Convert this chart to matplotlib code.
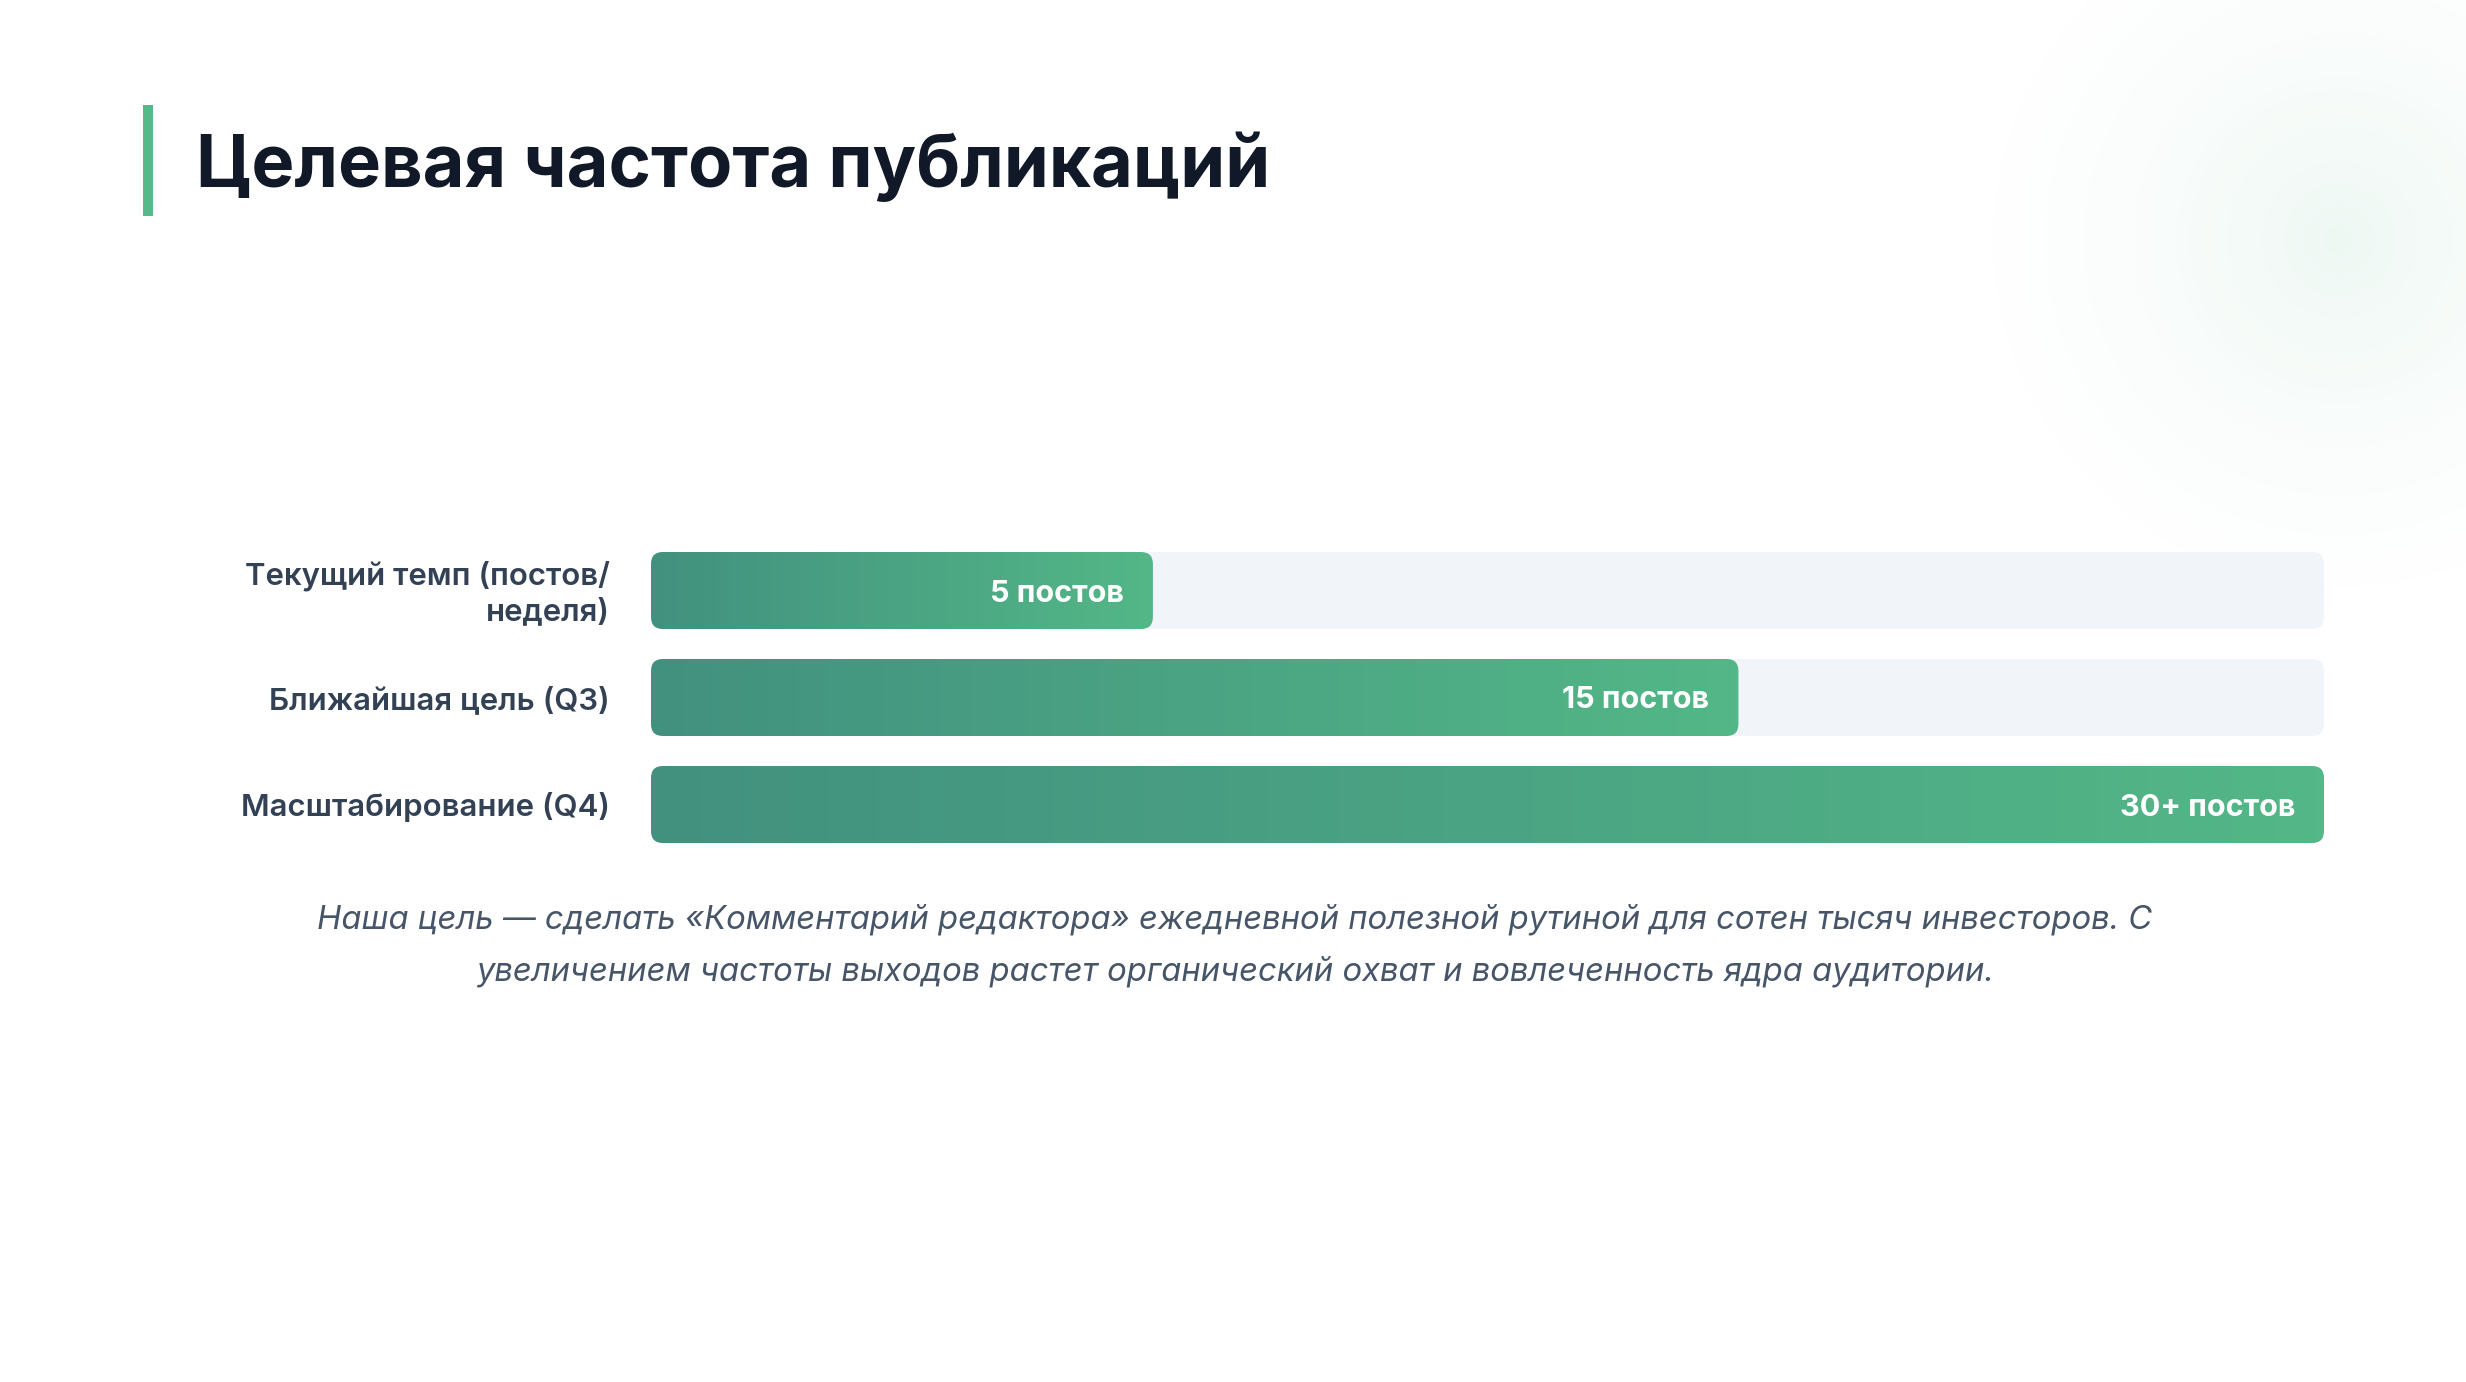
import numpy as np
import matplotlib
matplotlib.use("Agg")
import matplotlib.pyplot as plt
from matplotlib import font_manager
from matplotlib.patches import FancyBboxPatch, Rectangle
from matplotlib.colors import LinearSegmentedColormap

W, H = 2466, 1382
DPI = 100

TITLE = "Целевая частота публикаций"
categories = ["Текущий темп (постов/\nнеделя)", "Ближайшая цель (Q3)", "Масштабирование (Q4)"]
fill_pct = [30, 65, 100]
value_labels = ["5 постов", "15 постов", "30+ постов"]
caption_lines = [
    "Наша цель — сделать «Комментарий редактора» ежедневной полезной рутиной для сотен тысяч инвесторов. С",
    "увеличением частоты выходов растет органический охват и вовлеченность ядра аудитории.",
]

GREEN_L = "#42917f"
GREEN_R = "#53b787"
TRACK = "#f1f5f9"
TITLE_C = "#111827"
LABEL_C = "#334155"
CAPTION_C = "#475569"

names = {f.name for f in font_manager.fontManager.ttflist}
base_font = ["Inter", "DejaVu Sans"] if "Inter" in names else ["Roboto", "DejaVu Sans"]
italic_ok = any(f.name == "Inter" and f.style == "italic" for f in font_manager.fontManager.ttflist)
cap_font = ["Inter", "DejaVu Sans"] if italic_ok else ["Roboto", "DejaVu Sans"]
plt.rcParams["font.family"] = base_font

fig = plt.figure(figsize=(W / DPI, H / DPI), dpi=DPI)
fig.patch.set_facecolor("white")

# background layer in pixel coords
bg = fig.add_axes([0, 0, 1, 1])
bg.axis("off")

# faint green glow top right
gx, gy = np.meshgrid(np.arange(1700, W, 4), np.arange(0, 700, 4))
d = np.hypot(gx - 2339, gy - 238) / 400.0
alpha = 0.10 * np.clip(1 - d, 0, 1) ** 1.6
glow = np.zeros(gx.shape + (4,))
glow[..., 0] = 82 / 255
glow[..., 1] = 183 / 255
glow[..., 2] = 136 / 255
glow[..., 3] = alpha
bg.imshow(glow, extent=(1700, W, 700, 0), interpolation="bilinear", zorder=0)
bg.set_xlim(0, W)
bg.set_ylim(H, 0)

# title with accent bar
bg.add_patch(Rectangle((143, 105), 10, 111, color="#55b98a", lw=0, zorder=2))
bg.text(196, 187, TITLE, fontsize=52, fontweight="bold", color=TITLE_C,
        ha="left", va="baseline", zorder=3)

# caption
cap_y = [920, 972]
for line, y in zip(caption_lines, cap_y):
    bg.text(1235, y, line, fontsize=23.6, style="italic", color=CAPTION_C,
            ha="center", va="center", family=cap_font, zorder=3)

# bar axes
x0, x1 = 651, 2324
step = 107
bar_h_px = 77
top = 590.5 - step / 2
n = len(categories)
ax = fig.add_axes([x0 / W, 1 - (top + n * step) / H, (x1 - x0) / W, n * step / H])
ax.axis("off")

bar_h = bar_h_px / step
px_x = (x1 - x0) / 100.0
rad_px = 12
aspect = (1 / step) / (1 / px_x)
cmap = LinearSegmentedColormap.from_list("g", [GREEN_L, GREEN_R])
grad = np.linspace(0, 1, 256).reshape(1, -1)
dy = 3 / step  # small downward nudge for text centring

for i, (cat, pct, lab) in enumerate(zip(categories, fill_pct, value_labels)):
    yb = i - bar_h / 2
    track = FancyBboxPatch((0, yb), 100, bar_h,
                           boxstyle=f"round,pad=0,rounding_size={rad_px / px_x}",
                           mutation_aspect=aspect, fc=TRACK, ec="none", zorder=1)
    ax.add_patch(track)
    fill = FancyBboxPatch((0, yb), pct, bar_h,
                          boxstyle=f"round,pad=0,rounding_size={rad_px / px_x}",
                          mutation_aspect=aspect, fc="none", ec="none", zorder=2)
    ax.add_patch(fill)
    im = ax.imshow(grad, cmap=cmap, aspect="auto", extent=(0, pct, yb + bar_h, yb),
                   interpolation="bilinear", zorder=2)
    im.set_clip_path(fill)
    ax.text(pct - 29 / px_x, i + dy, lab, fontsize=22, fontweight="bold", color="white",
            ha="right", va="center", zorder=3)
    ax.text(-41 / px_x, i + dy, cat, fontsize=22.4, fontweight="semibold", color=LABEL_C,
            ha="right", va="center", multialignment="right", linespacing=1.3,
            zorder=3)

ax.set_xlim(0, 100)
ax.set_ylim(n - 0.5, -0.5)

fig.savefig("out.png", dpi=DPI, facecolor="white")
